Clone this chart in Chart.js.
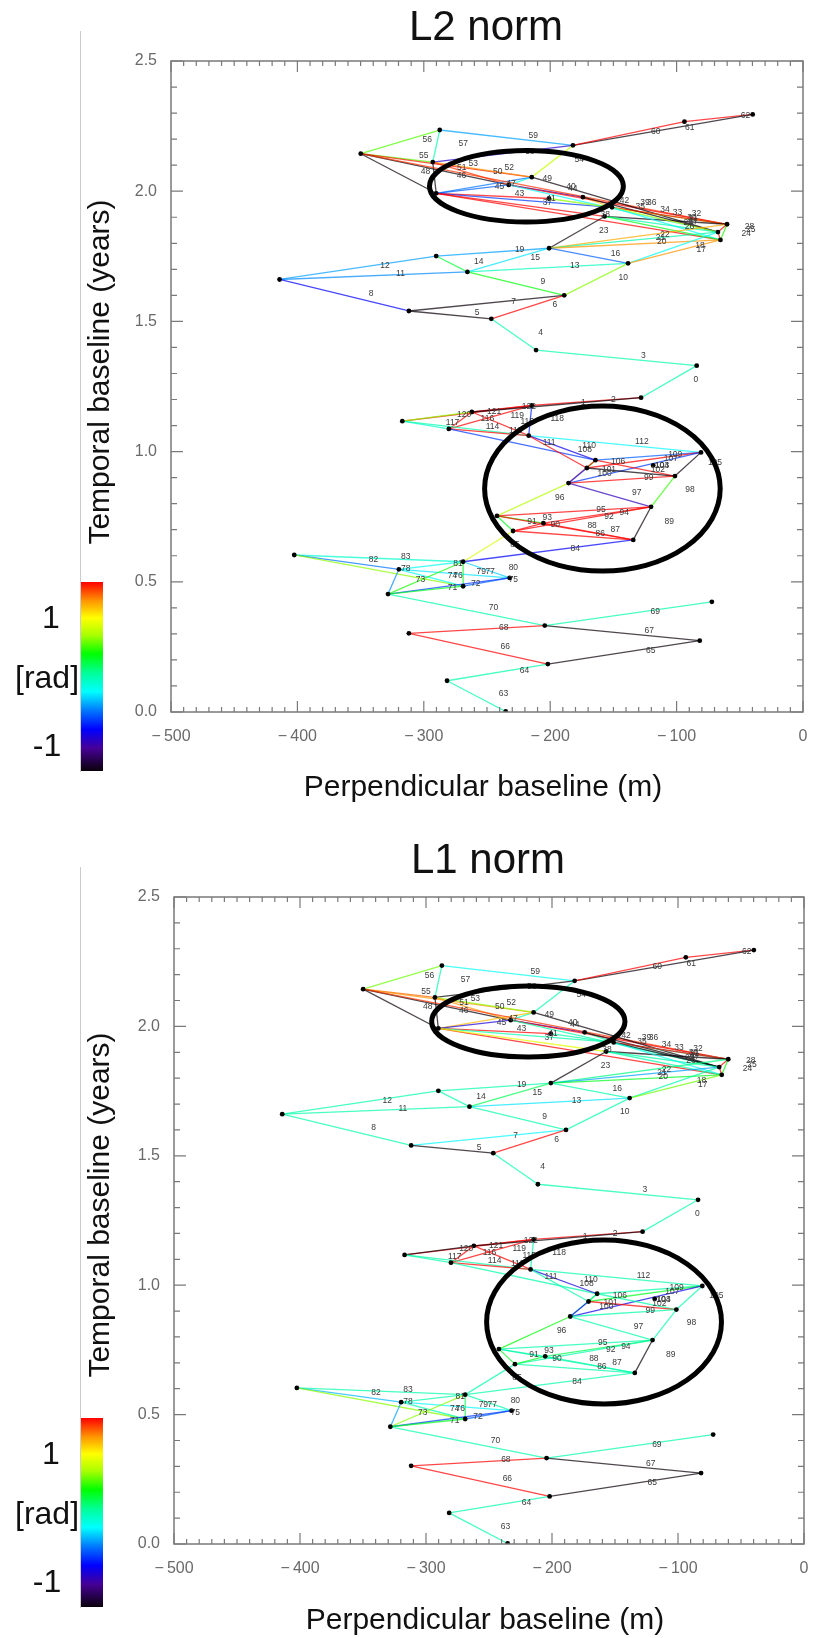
<!DOCTYPE html>
<html>
<head>
<meta charset="utf-8">
<script src="https://cdn.jsdelivr.net/npm/chart.js@4.4.1/dist/chart.umd.min.js"></script>
<style>
  body { margin: 0; background: #fff; font-family: "Liberation Sans", Arial, sans-serif; }
  #page { position: relative; width: 817px; height: 1638px; overflow: hidden; }
  .panel { position: absolute; left: 0; width: 817px; height: 819px; }
  .panel canvas { position: absolute; left: 0; top: 0; }
  .txt { position: absolute; color: #111; white-space: nowrap; transform: translate(-50%, -50%); }
  .title { font-size: 42px; }
  .axt { font-size: 30px; }
  .ytitle { transform: translate(-50%, -50%) rotate(-90deg); }
  .cbl { font-size: 32px; }
  .cbar { position: absolute; left: 81px; width: 22px; }
  .frameline { position: absolute; background: #ccc; }
</style>
</head>
<body>
<div id="page">
  <div class="panel" style="top:0">
    <canvas id="c1" width="817" height="819"></canvas>
    <div class="frameline" style="left:80px;top:31px;width:1px;height:741px"></div>
    <div class="txt title" style="left:486px;top:26px">L2 norm</div>
    <div class="txt axt ytitle" style="left:99px;top:372px">Temporal baseline (years)</div>
    <div class="txt axt" style="left:483px;top:786px">Perpendicular baseline (m)</div>
    <div class="cbar" id="cb1" style="top:582px;height:189px"></div>
    <div class="txt cbl" style="left:51px;top:617px">1</div>
    <div class="txt cbl" style="left:47px;top:677px">[rad]</div>
    <div class="txt cbl" style="left:47px;top:745px">-1</div>
  </div>
  <div class="panel" style="top:819px">
    <canvas id="c2" width="817" height="819"></canvas>
    <div class="frameline" style="left:80px;top:48px;width:1px;height:741px"></div>
    <div class="txt title" style="left:488px;top:40px">L1 norm</div>
    <div class="txt axt ytitle" style="left:99px;top:386px">Temporal baseline (years)</div>
    <div class="txt axt" style="left:485px;top:800px">Perpendicular baseline (m)</div>
    <div class="cbar" id="cb2" style="top:599px;height:189px"></div>
    <div class="txt cbl" style="left:51px;top:634px">1</div>
    <div class="txt cbl" style="left:47px;top:694px">[rad]</div>
    <div class="txt cbl" style="left:47px;top:762px">-1</div>
  </div>
</div>
<script>
// baseline network: acquisitions (nodes)
const nodeX = [-39.8, -93.8, -182.0, -287.4, -349.9, -292.9, -214.6, -232.8, -290.2, -201.0,
  -174.1, -151.1, -157.0, -60.1, -67.3, -65.3, -200.9, -290.2, -265.5, -138.4,
  -414.1, -188.9, -311.8, -246.6, -211.2, -84.1, -128.1, -214.6, -262.0, -317.0,
  -280.2, -217.0, -80.7, -164.2, -171.0, -118.5, -101.3, -185.5, -120.2, -242.1,
  -205.4, -229.4, -134.3, -268.9, -402.5, -319.7, -232.1, -268.9, -328.3, -72.1,
  -204.3, -311.8, -81.7, -201.9, -281.6, -235.2];
const nodeY = [2.295, 2.267, 2.176, 2.235, 2.144, 2.112, 2.054, 2.024, 1.992, 1.972,
  1.977, 1.938, 1.903, 1.873, 1.843, 1.813, 1.781, 1.751, 1.690, 1.723,
  1.661, 1.600, 1.540, 1.510, 1.390, 1.330, 1.207, 1.177, 1.152, 1.117,
  1.087, 1.061, 0.997, 0.967, 0.937, 0.947, 0.906, 0.879, 0.788, 0.753,
  0.725, 0.695, 0.661, 0.577, 0.603, 0.548, 0.515, 0.483, 0.453, 0.423,
  0.332, 0.302, 0.274, 0.184, 0.120, 0.002];

// interferograms (edges), index = label
const edgeFrom = [25, 28, 27, 24, 23, 22, 23, 22, 20, 18,
  21, 20, 20, 18, 17, 18, 16, 19, 19, 17,
  16, 16, 16, 16, 15, 15, 12, 11, 14, 12,
  11, 12, 11, 10, 9, 7, 6, 8, 8, 7,
  4, 8, 10, 8, 7, 8, 5, 6, 4, 6,
  5, 4, 5, 4, 6, 4, 4, 3, 5, 3,
  2, 2, 1, 54, 54, 53, 51, 50, 51, 50,
  48, 48, 48, 45, 48, 47, 45, 43, 44, 45,
  43, 45, 44, 44, 43, 43, 41, 40, 39, 42,
  41, 39, 41, 39, 40, 39, 39, 37, 38, 37,
  37, 37, 34, 33, 37, 36, 34, 34, 31, 33,
  31, 30, 31, 30, 29, 28, 28, 29, 27, 30,
  29, 29, 28];
const edgeTo = [26, 26, 26, 25, 24, 23, 21, 21, 22, 21,
  19, 18, 17, 19, 18, 16, 19, 15, 14, 16,
  15, 14, 13, 12, 14, 13, 15, 15, 13, 14,
  14, 13, 13, 14, 13, 14, 14, 12, 15, 13,
  13, 11, 11, 9, 10, 7, 8, 8, 8, 7,
  7, 7, 6, 6, 2, 5, 3, 5, 2, 2,
  1, 0, 0, 55, 53, 52, 53, 52, 50, 49,
  50, 47, 46, 48, 43, 46, 47, 47, 47, 46,
  46, 43, 45, 43, 42, 41, 42, 42, 42, 38,
  40, 41, 38, 40, 38, 38, 37, 38, 36, 36,
  34, 33, 36, 36, 32, 32, 33, 32, 34, 32,
  33, 33, 32, 31, 31, 31, 30, 30, 31, 27,
  28, 27, 27];

// unwrapped phase closure per interferogram [rad]
const phaseL2 = [0, -1.5, 1.5, 0, 0, -1.5, 1.5, -1.5, -0.85, 0.35,
  0.6, -0.5, -0.45, -0.05, 0.25, -0.3, -0.6, 1.2, -0.2, -0.45,
  1.2, 0, 1.15, -1.5, 1.5, 0.4, 0.3, -0.2, 1.5, 0,
  0.8, -1.5, 1.5, -1.5, 0.6, -0.25, -1.5, 1.5, 1.5, 1.5,
  1.4, -0.7, 1.1, 1.5, -1.0, -0.6, -1.5, -0.55, -1.5, -0.15,
  1.4, -1.5, 1.2, 1.45, 0.75, 0.5, 0.5, 0, -1.0, -0.45,
  1.5, -1.5, 1.5, 0, 0, -1.5, 1.5, -1.5, 1.5, 0,
  0, 0.3, -0.7, -0.5, 0.4, -0.6, -0.2, 0.3, 0.6, -0.3,
  -0.35, -0.2, -0.55, -0.1, -0.85, 0.8, 1.5, 1.5, 1.5, -1.5,
  1.5, 0.3, 1.5, 0.35, 1.5, 1.5, 0.7, -1.05, 0.45, 1.5,
  -0.7, 1.5, -1.5, 1.5, -0.7, -1.5, 0.4, 1.5, 1.5, -0.6,
  -0.9, -0.7, -0.25, 1.5, 0, 1.5, 1.5, -0.1, -0.75, 1.5,
  0.6, 1.5, 1.5];
const phaseL1 = [0, -1.5, 1.5, 0, 0, -1.5, 1.5, -0.25, 0, 0,
  0, 0, 0, -0.3, 0, 0.2, 0, 0.55, 0, 0,
  0.3, -0.45, 0.1, -1.5, 1.5, 0.35, 0, -0.2, 1.5, 0,
  -1.5, -1.5, 1.5, -1.5, 0, 0, -1.5, 0.85, 1.5, 1.5,
  1.4, 0, 0, 1.5, -1.0, -0.95, -1.5, 1.1, -1.5, 0,
  1.2, -1.5, 0.6, 1.2, 0, 1.3, 0.55, 0, -1.5, -0.2,
  1.5, -1.5, 1.5, 0, 0, -1.5, 1.5, -1.5, 1.5, 0,
  0, 0.3, -0.7, -0.45, 0.6, -0.6, 0, 0.2, 0.6, -0.25,
  0, 0, -0.4, 0, 0, 0, 0, 0, 0, -1.5,
  0.3, 0.3, 0, 0, 0.2, 0, 0.35, 0, 0, 0,
  -0.95, 0, 1.5, 0, -0.9, 0, 0.35, 0.3, 0, 0,
  -0.95, 0, 0, 1.5, 0, 1.5, 1.5, 0, 0, 1.5,
  -1.5, 1.5, 1.5];

// highlighted regions
const ellipseX = [-218.8, -158.7];
const ellipseY = [2.019, 0.858];
const ellipseRX = [76.7, 93.2];
const ellipseRY = [0.137, 0.317];

// colour table, -1.5 .. 1.5 rad
const phaseMin = -1.5, phaseMax = 1.5;
const cmapT = [0, 0.12, 0.22, 0.32, 0.42, 0.52, 0.62, 0.72, 0.81, 0.9, 1];
const cmapRGB = [[10, 0, 10], [70, 0, 150], [0, 0, 255], [0, 120, 255], [0, 255, 255], [0, 255, 150],
  [0, 255, 0], [170, 255, 0], [255, 255, 0], [255, 150, 0], [255, 0, 0]];

function cmap(t) {
  t = Math.max(0, Math.min(1, t));
  let i = 0;
  while (i < cmapT.length - 2 && t > cmapT[i + 1]) i++;
  const f = (t - cmapT[i]) / (cmapT[i + 1] - cmapT[i]);
  return cmapRGB[i].map((c, k) => Math.round(c + f * (cmapRGB[i + 1][k] - c)));
}
function phaseColor(v, alpha) {
  const c = cmap((v - phaseMin) / (phaseMax - phaseMin));
  return 'rgba(' + c.join(',') + ',' + alpha + ')';
}

// colour bars
['cb1', 'cb2'].forEach(id => {
  const stops = cmapT.map((t, i) => 'rgb(' + cmapRGB[i].join(',') + ') ' + (t * 100) + '%');
  document.getElementById(id).style.background = 'linear-gradient(to top, ' + stops.join(', ') + ')';
});

// IDL-like box with inward ticks
const framePlugin = {
  id: 'frame',
  afterDraw(chart) {
    const { ctx, chartArea: a, scales: { x, y } } = chart;
    ctx.save();
    ctx.strokeStyle = '#7a7a7a';
    ctx.lineWidth = 1.5;
    ctx.strokeRect(a.left, a.top, a.width, a.height);
    ctx.lineWidth = 1.2;
    ctx.beginPath();
    for (let k = 0; k <= 50; k++) {
      const px = x.getPixelForValue(x.min + k * 10);
      const len = k % 10 === 0 ? 11 : 5;
      ctx.moveTo(px, a.bottom); ctx.lineTo(px, a.bottom - len);
      ctx.moveTo(px, a.top); ctx.lineTo(px, a.top + len);
    }
    for (let k = 0; k <= 25; k++) {
      const py = y.getPixelForValue(y.min + k * 0.1);
      const len = k % 5 === 0 ? 12 : 6;
      ctx.moveTo(a.left, py); ctx.lineTo(a.left + len, py);
      ctx.moveTo(a.right, py); ctx.lineTo(a.right - len, py);
    }
    ctx.stroke();
    ctx.restore();
  }
};

// edge numbers and ellipses
const notesPlugin = {
  id: 'notes',
  afterDatasetsDraw(chart) {
    const { ctx, scales: { x, y } } = chart;
    ctx.save();
    ctx.font = '8.5px "Liberation Sans", Arial, sans-serif';
    ctx.fillStyle = '#3a3a3a';
    ctx.textAlign = 'center';
    ctx.textBaseline = 'middle';
    edgeFrom.forEach((a, i) => {
      const b = edgeTo[i];
      const mx = (x.getPixelForValue(nodeX[a]) + x.getPixelForValue(nodeX[b])) / 2;
      const my = (y.getPixelForValue(nodeY[a]) + y.getPixelForValue(nodeY[b])) / 2;
      ctx.fillText(String(i), mx + 27, my - 2);
    });
    ctx.strokeStyle = '#000';
    ctx.lineWidth = 5;
    ellipseX.forEach((cx, i) => {
      const px = x.getPixelForValue(cx), py = y.getPixelForValue(ellipseY[i]);
      const rx = Math.abs(x.getPixelForValue(cx + ellipseRX[i]) - px);
      const ry = Math.abs(y.getPixelForValue(ellipseY[i] + ellipseRY[i]) - py);
      ctx.beginPath();
      ctx.ellipse(px, py, rx, ry, 0, 0, Math.PI * 2);
      ctx.stroke();
    });
    ctx.restore();
  }
};

function makeChart(id, phases, area) {
  const datasets = [{
    data: nodeX.map((v, i) => ({ x: v, y: nodeY[i] })),
    pointRadius: 2.4,
    pointBackgroundColor: '#000',
    pointBorderWidth: 0,
    showLine: false,
    order: -1
  }];
  edgeFrom.forEach((a, i) => {
    const b = edgeTo[i];
    datasets.push({
      data: [{ x: nodeX[a], y: nodeY[a] }, { x: nodeX[b], y: nodeY[b] }],
      borderColor: phaseColor(phases[i], 0.72),
      borderWidth: 1.3,
      pointRadius: 0,
      showLine: true
    });
  });
  const tickFont = { family: '"Liberation Sans", Arial, sans-serif', size: 16 };
  return new Chart(document.getElementById(id), {
    type: 'scatter',
    data: { datasets },
    options: {
      responsive: false,
      animation: false,
      events: [],
      layout: { padding: { left: 0, top: area.top, right: 817 - area.right, bottom: 0 } },
      plugins: { legend: { display: false }, tooltip: { enabled: false } },
      scales: {
        x: {
          type: 'linear', min: -500, max: 0,
          grid: { display: false }, border: { display: false },
          ticks: {
            stepSize: 100, color: '#6a6a6a', font: tickFont, padding: 7, maxRotation: 0,
            callback: v => v < 0 ? '\u2212\u2009' + Math.abs(v) : String(v)
          },
          afterFit: s => { s.height = 819 - area.bottom; }
        },
        y: {
          type: 'linear', min: 0, max: 2.5,
          grid: { display: false }, border: { display: false },
          ticks: { stepSize: 0.5, color: '#6a6a6a', font: tickFont, padding: 6, callback: v => v.toFixed(1) },
          afterFit: s => { s.width = area.left; }
        }
      }
    },
    plugins: [framePlugin, notesPlugin]
  });
}

makeChart('c1', phaseL2, { left: 171, right: 803, top: 61, bottom: 712 });
makeChart('c2', phaseL1, { left: 174, right: 804, top: 78, bottom: 725 });
</script>
</body>
</html>
